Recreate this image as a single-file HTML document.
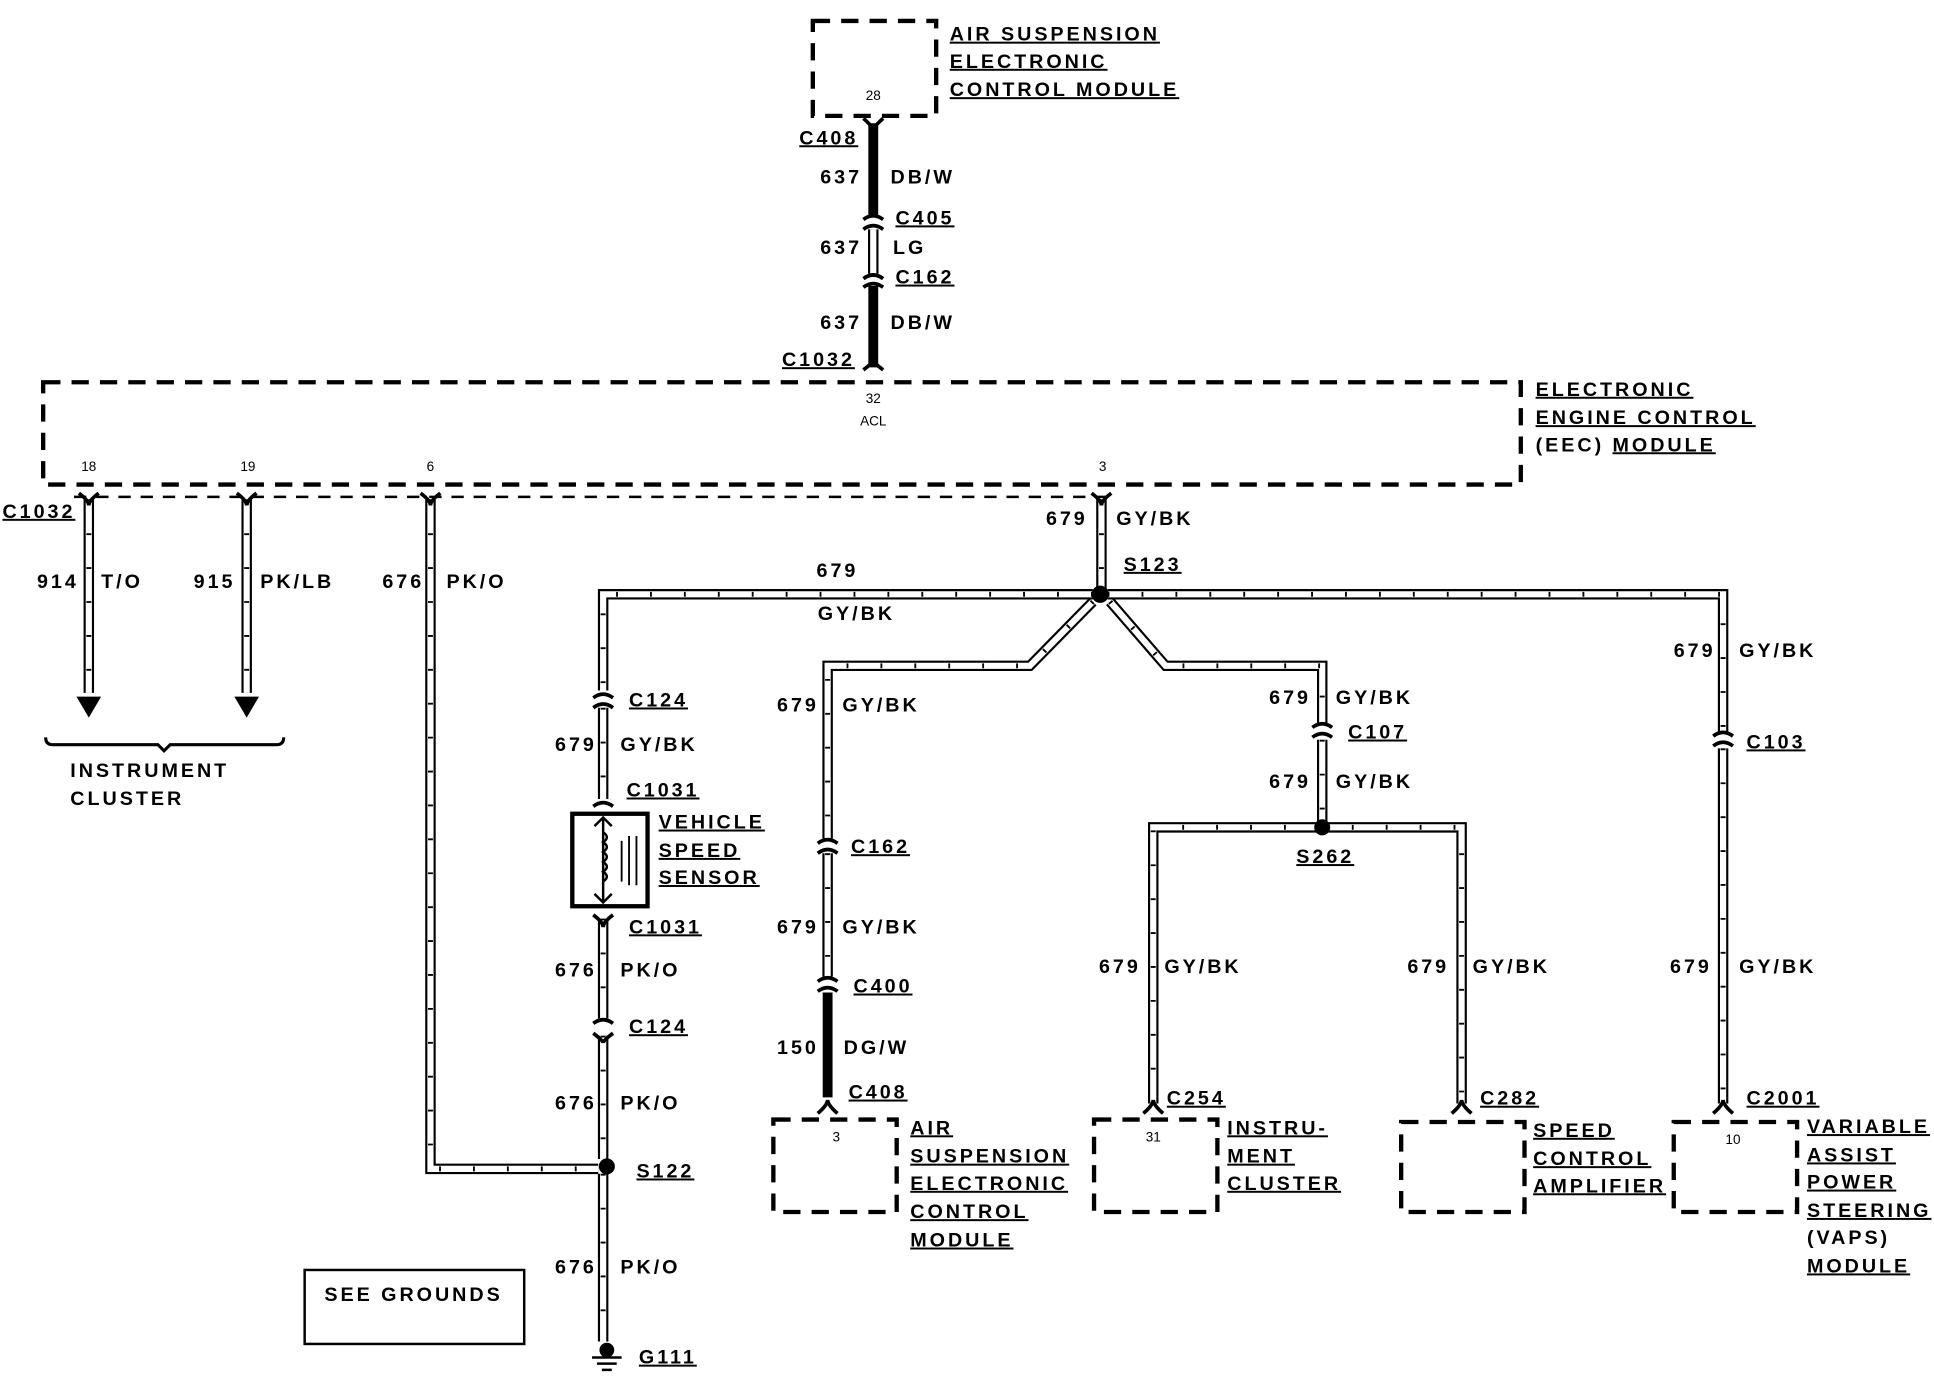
<!DOCTYPE html>
<html><head><meta charset="utf-8"><style>
html,body{margin:0;padding:0;background:#fff;}
svg{display:block;}
text{font-family:"Liberation Sans",sans-serif;font-weight:bold;font-size:16px;letter-spacing:2.4px;fill:#000;}
.u{text-decoration:underline;}
.s{font-size:11px;letter-spacing:0;font-weight:normal;}
.wo{fill:none;stroke:#000;stroke-width:8.5;}
.wi{fill:none;stroke:#fff;stroke-width:5;}
.wh{fill:none;stroke:#000;stroke-width:4;stroke-dasharray:1.5 26;}
.bk{fill:none;stroke:#000;stroke-width:8;}
.md{fill:none;stroke:#000;stroke-width:3.5;stroke-dasharray:14 9;}
.cn{fill:none;stroke:#000;stroke-width:3;}
</style></head><body>
<svg width="1934" height="1376" viewBox="0 0 1568 1116" preserveAspectRatio="none" xmlns="http://www.w3.org/2000/svg">
<defs>
<path id="p1" d="M72 405 V562"/>
<path id="p2" d="M200 405 V562"/>
<path id="p3" d="M349 405 V948 H485"/>
<path id="p4" d="M893 405 V478"/>
<path id="p5" d="M886 482 H489 V560"/>
<path id="p5b" d="M489 574 V648"/>
<path id="p6" d="M489 745 V826"/>
<path id="p6b" d="M489 840 V940"/>
<path id="p7" d="M489 952 V1088"/>
<path id="p8" d="M886 488 L835 540 H671 V680"/>
<path id="p8b" d="M671 692 V792"/>
<path id="p9" d="M900 488 L945 540 H1072 V587"/>
<path id="p9b" d="M1072 600 V666"/>
<path id="p10" d="M935 895 V671 H1185 V895"/>
<path id="p11" d="M898 482 H1397 V594"/>
<path id="p11b" d="M1397 607 V895"/>
<path id="p12" d="M708 186 V222"/>
</defs>
<g>
<use href="#p1" class="wo"/><use href="#p1" class="wi"/><use href="#p1" class="wh"/>
<use href="#p2" class="wo"/><use href="#p2" class="wi"/><use href="#p2" class="wh"/>
<use href="#p3" class="wo"/><use href="#p3" class="wi"/><use href="#p3" class="wh"/>
<use href="#p4" class="wo"/><use href="#p4" class="wi"/><use href="#p4" class="wh"/>
<use href="#p5" class="wo"/><use href="#p5" class="wi"/><use href="#p5" class="wh"/>
<use href="#p5b" class="wo"/><use href="#p5b" class="wi"/><use href="#p5b" class="wh"/>
<use href="#p6" class="wo"/><use href="#p6" class="wi"/><use href="#p6" class="wh"/>
<use href="#p6b" class="wo"/><use href="#p6b" class="wi"/><use href="#p6b" class="wh"/>
<use href="#p7" class="wo"/><use href="#p7" class="wi"/><use href="#p7" class="wh"/>
<use href="#p8" class="wo"/><use href="#p8" class="wi"/><use href="#p8" class="wh"/>
<use href="#p8b" class="wo"/><use href="#p8b" class="wi"/><use href="#p8b" class="wh"/>
<use href="#p9" class="wo"/><use href="#p9" class="wi"/><use href="#p9" class="wh"/>
<use href="#p9b" class="wo"/><use href="#p9b" class="wi"/><use href="#p9b" class="wh"/>
<use href="#p10" class="wo"/><use href="#p10" class="wi"/><use href="#p10" class="wh"/>
<use href="#p11" class="wo"/><use href="#p11" class="wi"/><use href="#p11" class="wh"/>
<use href="#p11b" class="wo"/><use href="#p11b" class="wi"/><use href="#p11b" class="wh"/>
<use href="#p12" class="wo"/><use href="#p12" class="wi"/>
<path class="bk" d="M708 100 V174"/>
<path class="bk" d="M708 232 V298"/>
<path class="bk" d="M671 805 V890"/>
</g>
<polygon points="62,565 82,565 72,582"/>
<polygon points="190,565 210,565 200,582"/>
<path d="M37 598 Q37 604 43 604 H128 L133 609 L138 604 H224 Q230 604 230 598" fill="none" stroke="#000" stroke-width="2.5"/>
<circle cx="892" cy="482" r="7"/>
<circle cx="1072" cy="671" r="6.5"/>
<circle cx="492" cy="946" r="6.5"/>
<circle cx="492" cy="1095" r="6"/>
<path d="M480 1101 H504 M484 1106 H500 M488 1111 H496" stroke="#000" stroke-width="2"/>
<g class="cn">
<path d="M700 96 Q708 103 708 106 Q708 103 716 96"/>
<path d="M700 178 Q708 172 716 178 M700 186 Q708 180 716 186"/>
<path d="M700 226 Q708 220 716 226 M700 233 Q708 227 716 233"/>
<path d="M700 300 Q708 294 708 292 Q708 294 716 300"/>
<path d="M64 400 Q72 406 72 410 Q72 406 80 400"/>
<path d="M192 400 Q200 406 200 410 Q200 406 208 400"/>
<path d="M341 400 Q349 406 349 410 Q349 406 357 400"/>
<path d="M885 400 Q893 406 893 410 Q893 406 901 400"/>
<path d="M481 566 Q489 560 497 566 M481 574 Q489 568 497 574"/>
<path d="M481 654 Q489 648 497 654"/>
<path d="M481 742 Q489 748 489 752 Q489 748 497 742"/>
<path d="M481 830 Q489 824 497 830 M481 838 Q489 844 489 846 Q489 844 497 838"/>
<path d="M663 684 Q671 678 679 684 M663 692 Q671 686 679 692"/>
<path d="M663 796 Q671 790 679 796 M663 804 Q671 798 679 804"/>
<path d="M663 903 Q671 896 671 892 Q671 896 679 903"/>
<path d="M1064 590 Q1072 584 1080 590 M1064 598 Q1072 592 1080 598"/>
<path d="M1389 597 Q1397 591 1405 597 M1389 605 Q1397 599 1405 605"/>
<path d="M927 903 Q935 896 935 892 Q935 896 943 903"/>
<path d="M1177 903 Q1185 896 1185 892 Q1185 896 1193 903"/>
<path d="M1389 903 Q1397 896 1397 892 Q1397 896 1405 903"/>
</g>
<rect class="md" x="659" y="17" width="100" height="77"/>
<rect class="md" x="35" y="310" width="1198" height="83"/>
<path d="M60 403 H900" stroke="#000" stroke-width="2" stroke-dasharray="10 8"/>
<rect class="md" x="627" y="908" width="100" height="75"/>
<rect class="md" x="887" y="908" width="100" height="75"/>
<rect class="md" x="1136" y="910" width="100" height="73"/>
<rect class="md" x="1357" y="910" width="100" height="73"/>
<rect x="247" y="1030" width="178" height="60" fill="none" stroke="#000" stroke-width="2"/>
<rect x="464" y="660" width="61" height="75" fill="none" stroke="#000" stroke-width="3.5"/>
<path d="M489 663 V732 M482 670 L489 663 L496 670 M482 725 L489 732 L496 725" fill="none" stroke="#000" stroke-width="2"/>
<path d="M489 675 q6 4 0 8 q6 4 0 8 q6 4 0 8 q6 4 0 8 q6 4 0 8" fill="none" stroke="#000" stroke-width="2"/>
<path d="M504 682 V715 M510 678 V718 M516 678 V718" stroke="#000" stroke-width="1.5"/>
<text class="u" x="770" y="33">AIR SUSPENSION</text>
<text class="u" x="770" y="55">ELECTRONIC</text>
<text class="u" x="770" y="78">CONTROL MODULE</text>
<text class="s" x="708" y="81" text-anchor="middle">28</text>
<text class="u" x="648" y="117">C408</text>
<text x="665" y="149">637</text><text x="722" y="149">DB/W</text>
<text class="u" x="726" y="182">C405</text>
<text x="665" y="206">637</text><text x="724" y="206">LG</text>
<text class="u" x="726" y="230">C162</text>
<text x="665" y="267">637</text><text x="722" y="267">DB/W</text>
<text class="u" x="634" y="297">C1032</text>
<text class="s" x="708" y="327" text-anchor="middle">32</text>
<text class="s" x="708" y="345" text-anchor="middle">ACL</text>
<text class="u" x="1245" y="321">ELECTRONIC</text>
<text class="u" x="1245" y="344">ENGINE CONTROL</text>
<text x="1245" y="366">(EEC) <tspan class="u">MODULE</tspan></text>
<text class="s" x="72" y="382" text-anchor="middle">18</text>
<text class="s" x="201" y="382" text-anchor="middle">19</text>
<text class="s" x="349" y="382" text-anchor="middle">6</text>
<text class="s" x="894" y="382" text-anchor="middle">3</text>
<text class="u" x="2" y="420">C1032</text>
<text x="30" y="477">914</text><text x="82" y="477">T/O</text>
<text x="157" y="477">915</text><text x="211" y="477">PK/LB</text>
<text x="310" y="477">676</text><text x="362" y="477">PK/O</text>
<text x="57" y="630">INSTRUMENT</text>
<text x="57" y="653">CLUSTER</text>
<text x="848" y="426">679</text><text x="905" y="426">GY/BK</text>
<text class="u" x="911" y="463">S123</text>
<text x="662" y="468">679</text>
<text x="663" y="503">GY/BK</text>
<text class="u" x="510" y="573">C124</text>
<text x="450" y="609">679</text><text x="503" y="609">GY/BK</text>
<text class="u" x="508" y="646">C1031</text>
<text class="u" x="534" y="672">VEHICLE</text>
<text class="u" x="534" y="695">SPEED</text>
<text class="u" x="534" y="717">SENSOR</text>
<text class="u" x="510" y="757">C1031</text>
<text x="450" y="792">676</text><text x="503" y="792">PK/O</text>
<text class="u" x="510" y="838">C124</text>
<text x="450" y="900">676</text><text x="503" y="900">PK/O</text>
<text class="u" x="516" y="955">S122</text>
<text x="450" y="1033">676</text><text x="503" y="1033">PK/O</text>
<text class="u" x="518" y="1106">G111</text>
<text x="263" y="1055">SEE GROUNDS</text>
<text x="630" y="577">679</text><text x="683" y="577">GY/BK</text>
<text class="u" x="690" y="692">C162</text>
<text x="630" y="757">679</text><text x="683" y="757">GY/BK</text>
<text class="u" x="692" y="805">C400</text>
<text x="630" y="855">150</text><text x="684" y="855">DG/W</text>
<text class="u" x="688" y="891">C408</text>
<text class="s" x="678" y="926" text-anchor="middle">3</text>
<text class="u" x="738" y="920">AIR</text>
<text class="u" x="738" y="943">SUSPENSION</text>
<text class="u" x="738" y="965">ELECTRONIC</text>
<text class="u" x="738" y="988">CONTROL</text>
<text class="u" x="738" y="1011">MODULE</text>
<text x="1029" y="571">679</text><text x="1083" y="571">GY/BK</text>
<text class="u" x="1093" y="599">C107</text>
<text x="1029" y="639">679</text><text x="1083" y="639">GY/BK</text>
<text class="u" x="1051" y="700">S262</text>
<text x="891" y="789">679</text><text x="944" y="789">GY/BK</text>
<text class="u" x="946" y="896">C254</text>
<text class="s" x="935" y="926" text-anchor="middle">31</text>
<text class="u" x="995" y="920">INSTRU-</text>
<text class="u" x="995" y="943">MENT</text>
<text class="u" x="995" y="965">CLUSTER</text>
<text x="1141" y="789">679</text><text x="1194" y="789">GY/BK</text>
<text class="u" x="1200" y="896">C282</text>
<text class="u" x="1243" y="922">SPEED</text>
<text class="u" x="1243" y="945">CONTROL</text>
<text class="u" x="1243" y="967">AMPLIFIER</text>
<text x="1357" y="533">679</text><text x="1410" y="533">GY/BK</text>
<text class="u" x="1416" y="607">C103</text>
<text x="1354" y="789">679</text><text x="1410" y="789">GY/BK</text>
<text class="u" x="1416" y="896">C2001</text>
<text class="s" x="1405" y="928" text-anchor="middle">10</text>
<text class="u" x="1465" y="919">VARIABLE</text>
<text class="u" x="1465" y="942">ASSIST</text>
<text class="u" x="1465" y="964">POWER</text>
<text class="u" x="1465" y="987">STEERING</text>
<text x="1465" y="1009">(VAPS)</text>
<text class="u" x="1465" y="1032">MODULE</text>
</svg>
</body></html>
